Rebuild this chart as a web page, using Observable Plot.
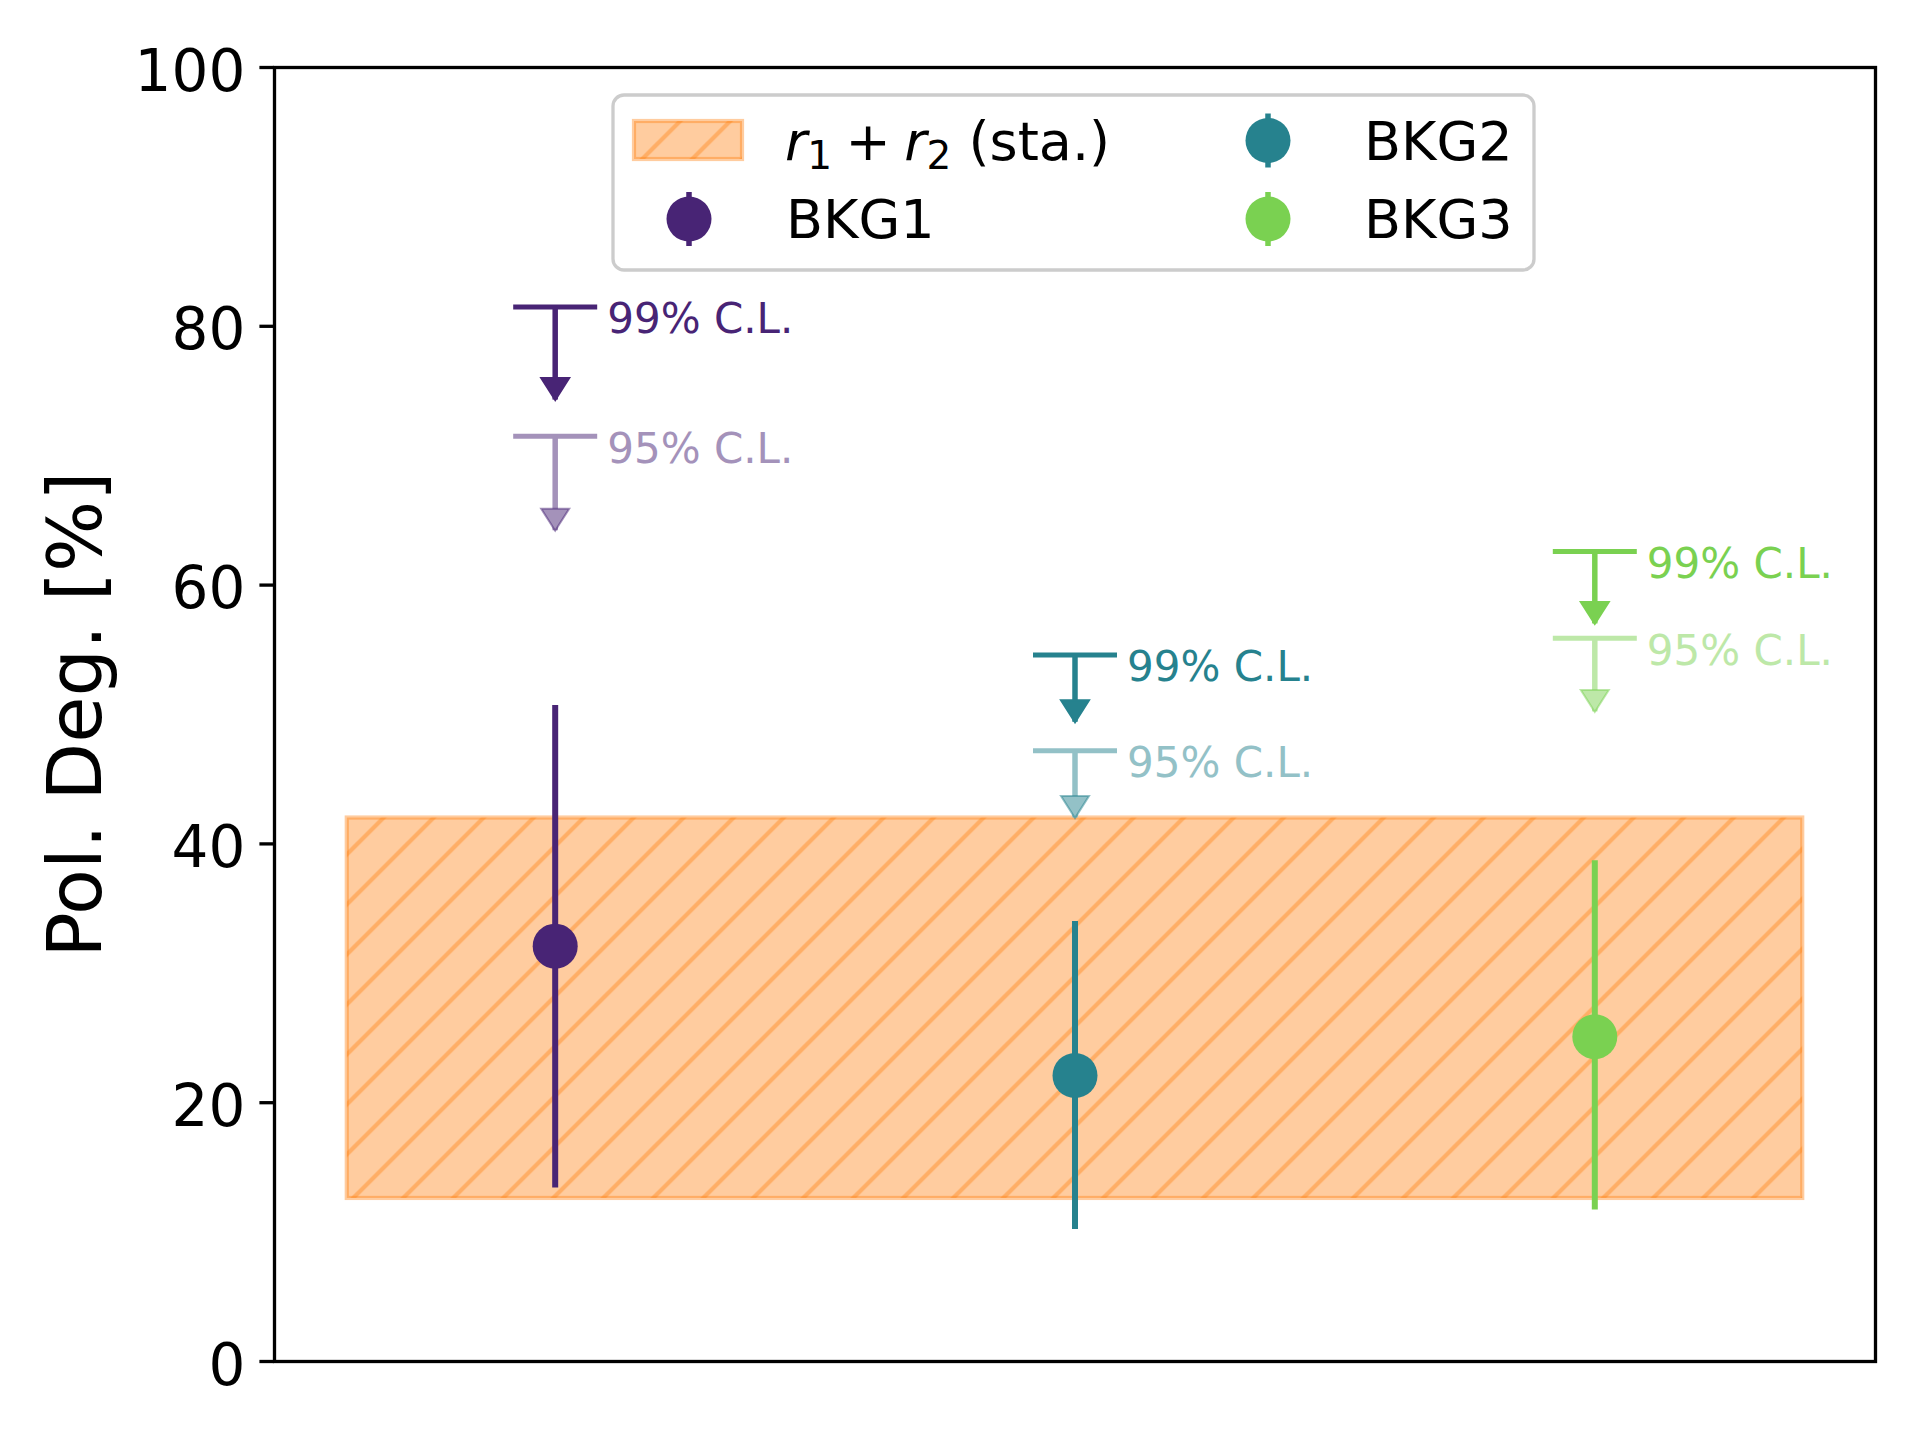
<!DOCTYPE html>
<html>
<head>
<meta charset="utf-8">
<script src="https://cdn.jsdelivr.net/npm/d3@7"></script>
<script src="https://cdn.jsdelivr.net/npm/@observablehq/plot@0.6"></script>
<style>
  html, body { margin: 0; padding: 0; background: white; }
  svg.plot { display: block; }
</style>
</head>
<body>
<svg width="0" height="0" style="position:absolute">
  <defs>
    <pattern id="hatch" patternUnits="userSpaceOnUse" x="1.3" y="0" width="50" height="50">
      <rect x="0" y="0" width="50" height="50" fill="#ff7f0e" fill-opacity="0.4"></rect>
      <path d="M-5,5 L5,-5 M0,50 L50,0 M45,55 L55,45" stroke="#ff7f0e" stroke-opacity="0.4" stroke-width="4.2" fill="none"></path>
    </pattern>
  </defs>
</svg>
<div id="chart"></div>
<script>
// ---- data ----
const groups = ["BKG1", "BKG2", "BKG3"];
const xPos = [1, 2, 3];
const colors = ["#482475", "#26828e", "#7ad151"];
const central = [32.1, 22.1, 25.1];
const errLow = [13.4, 10.2, 11.7];
const errHigh = [50.7, 34.0, 38.7];
const ul99 = [81.5, 54.6, 62.6];
const ul99Tip = [74.3, 49.4, 57.0];
const ul95 = [71.5, 47.2, 55.9];
const ul95Tip = [64.2, 42.0, 50.2];
const bandX = [0.6, 3.4];
const bandY = [12.6, 42.0];
const yTicks = [0, 20, 40, 60, 80, 100];
const xDomain = [0.46, 3.54];
const yDomain = [0, 100];
const yLabel = "Pol. Deg. [%]";

// ---- tables ----
const pts = groups.map((g, i) => ({
  g, x: xPos[i], c: central[i], lo: errLow[i], hi: errHigh[i], color: colors[i]
}));
const light = c => d3.interpolateRgb(c, "white")(0.5);
const limits = [];
groups.forEach((g, i) => {
  limits.push({g, x: xPos[i], cap: ul99[i], tip: ul99Tip[i], label: "99% C.L.", color: colors[i], edge: colors[i], edgeOp: 1});
  limits.push({g, x: xPos[i], cap: ul95[i], tip: ul95Tip[i], label: "95% C.L.", color: light(colors[i]), edge: colors[i], edgeOp: 0.5});
});
const band = [{x1: bandX[0], x2: bandX[1], y1: bandY[0], y2: bandY[1]}];

const capSymbol = {draw(ctx) { ctx.moveTo(-42, 0); ctx.lineTo(42, 0); }};
const headSymbol = {draw(ctx) { ctx.moveTo(0, 0); ctx.lineTo(-14, -22); ctx.lineTo(14, -22); ctx.closePath(); }};

const chart = Plot.plot({
  width: 1920,
  height: 1440,
  marginLeft: 274,
  marginRight: 45,
  marginTop: 67,
  marginBottom: 79,
  style: {fontFamily: "DejaVu Sans", background: "white", color: "black"},
  x: {domain: xDomain, axis: null},
  y: {domain: yDomain},
  color: {type: "identity"},
  marks: [
    Plot.rect(band, {x1: "x1", x2: "x2", y1: "y1", y2: "y2", fill: "url(#hatch)", stroke: "#ff7f0e", strokeOpacity: 0.4, strokeWidth: 4.2}),
    Plot.ruleX(pts, {x: "x", y1: "lo", y2: "hi", stroke: "color", strokeWidth: 6}),
    Plot.dot(pts, {x: "x", y: "c", r: 22.5, fill: "color", stroke: null}),
    Plot.ruleX(limits, {x: "x", y1: "cap", y2: "tip", stroke: "color", strokeWidth: 5.5}),
    Plot.dot(limits, {x: "x", y: "cap", symbol: capSymbol, stroke: "color", strokeWidth: 5, fill: "none"}),
    Plot.dot(limits, {x: "x", y: "tip", symbol: headSymbol, fill: "color", stroke: "edge", strokeOpacity: "edgeOp", strokeWidth: 2}),
    Plot.text(limits, {x: "x", y: "cap", text: "label", fill: "color", dx: 52, dy: 13, textAnchor: "start", lineAnchor: "middle", fontSize: 42}),
    Plot.frame({stroke: "black", strokeWidth: 3.3}),
    Plot.axisY(yTicks, {tickSize: 14.6, tickFormat: () => "", label: null, strokeWidth: 3.3}),
    Plot.text(yTicks, {frameAnchor: "left", y: d => d, text: d => String(d), textAnchor: "end", lineAnchor: "middle", dx: -29.2, dy: 4.5, fontSize: 58, fill: "black"}),
    Plot.text([yLabel], {frameAnchor: "left", text: d => d, rotate: -90, dx: -198, textAnchor: "middle", lineAnchor: "middle", fontSize: 75, fill: "black"})
  ]
});
document.getElementById("chart").appendChild(chart);

// ---- legend (inside the axes, upper centre) ----
const svg = d3.select(chart);
const lg = svg.append("g").attr("font-family", "DejaVu Sans").attr("font-size", 54).attr("text-anchor", "start");
lg.append("rect").attr("x", 613).attr("y", 95).attr("width", 921).attr("height", 175).attr("rx", 11)
  .attr("fill", "white").attr("fill-opacity", 0.8).attr("stroke", "#cccccc").attr("stroke-width", 3.3);
// band handle
lg.append("rect").attr("x", 634).attr("y", 121).attr("width", 108).attr("height", 38)
  .attr("fill", "url(#hatch)").attr("stroke", "#ff7f0e").attr("stroke-opacity", 0.4).attr("stroke-width", 4.2);
const t = lg.append("text").attr("x", 785).attr("y", 160).attr("fill", "black").attr("text-anchor", "start");
t.append("tspan").attr("font-style", "italic").text("r");
t.append("tspan").attr("font-size", 39).attr("dy", 9).text("1");
t.append("tspan").attr("dy", -9).text("\u2005+\u2005");
t.append("tspan").attr("font-style", "italic").text("r");
t.append("tspan").attr("font-size", 39).attr("dy", 9).text("2");
t.append("tspan").attr("dy", -9).text(" (sta.)");
// point handles
const slots = [{mx: 689, my: 219, tx: 786, ty: 238}, {mx: 1268, my: 140.5, tx: 1364, ty: 160}, {mx: 1268, my: 219, tx: 1364, ty: 238}];
groups.forEach((g, i) => {
  const s = slots[i];
  lg.append("line").attr("x1", s.mx).attr("x2", s.mx).attr("y1", s.my - 27).attr("y2", s.my + 27)
    .attr("stroke", colors[i]).attr("stroke-width", 5.5);
  lg.append("circle").attr("cx", s.mx).attr("cy", s.my).attr("r", 22.5).attr("fill", colors[i]);
  lg.append("text").attr("x", s.tx).attr("y", s.ty).attr("fill", "black").attr("text-anchor", "start").text(g);
});
</script>
</body>
</html>
